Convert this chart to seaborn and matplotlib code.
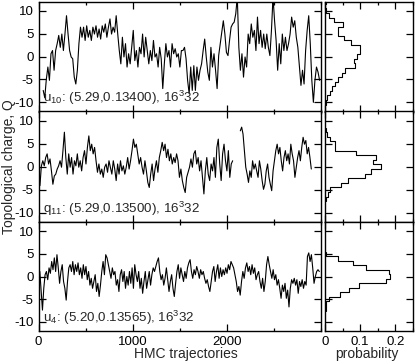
import numpy as np
import pandas as pd
import matplotlib
matplotlib.use('Agg')
import matplotlib.pyplot as plt
from matplotlib.ticker import MultipleLocator, NullFormatter
import seaborn as sns

sns.set_style('ticks')
plt.rcParams['font.family'] = ['Liberation Sans', 'DejaVu Sans']
plt.rcParams['axes.unicode_minus'] = False
plt.rcParams['mathtext.default'] = 'regular'

# %% data
# u10 run: topological charge vs HMC trajectory
u10_traj = (50, 2985)
u10_charge = [
    -7.4, -9.0, -5.0, -2.3, -5.2, 0.6, 1.3, -3.0, 1.3, 2.8, 4.6, 2.0, 4.9, 1.3, 4.9, 8.9, 4.9, 1.3, -0.1, -0.5,
    -4.5, -6.0, -3.0, 2.8, 6.4, 4.2, 6.4, 3.5, 6.7, 4.2, 5.7, 3.5, 6.4, 4.9, 6.7, 4.2, 6.0, 3.8, 6.7, 5.3,
    7.1, 4.2, 6.4, 8.2, 4.9, 6.4, 5.3, 8.9, 4.9, 1.3, -1.6, 4.2, -0.1, 2.8, -2.3, 0.6, -1.6, 2.0, 5.7, -0.9,
    1.3, -2.3, 2.0, 0.6, 4.9, -0.1, 4.2, 1.3, -1.6, 1.3, -0.9, 3.5, -0.1, 0.6, -2.3, 2.0, -0.5, -7.0, -1.6, 2.8,
    -0.1, 1.3, -2.3, 2.8, 0.6, 1.7, -0.1, 0.6, -2.3, 1.3,
    1.3, 2.0, -0.5, -5.2, -8.1, -2.3, -7.4, -2.0, -7.4, -2.3, -5.2, -3.0, -1.6, 1.3, 3.8, -0.1, -3.4, -5.2, 2.0, -2.3,
    0.6, -3.0, -7.0, 0.2, 2.8, 5.3, 7.8, 4.9, 0.9, 0.2, 3.5, 6.4, 7.1, 7.5, 9.3, 13.0, 2.0, -3.0, 0.6, -4.5,
    -0.1, -2.3, 4.9, 2.8, 7.1, 4.2, 5.7, 1.3, 8.6, 2.8, 5.7, 2.0, 4.9, 1.7, 4.9, 2.0, 0.2, 5.7, 13.0, 7.8,
    3.5, -3.0, 2.8, -1.6, 4.9, 1.3, 4.2, 1.3, 2.8, 4.9, 8.6, 6.4, 7.8, 4.2, 2.0, -2.3, -6.3, -3.0, -6.0, 1.3,
    5.7, 8.9, 2.8, -5.2, -10.0, -5.2, -2.3, -3.4, -5.2,
]

# q11 run, two stretches with a gap between them
q11_traj_a = (0, 2062)
q11_charge_a = [
    -2.3, -4.1, 0.2, 1.3, 0.2, 2.0, 2.8, 0.6, 1.7, -0.9, -3.8, -2.0, -1.6, -0.5, 0.2, 1.3, -0.1, 3.5, 7.5, 2.0,
    -1.6, 2.8, -0.1, 2.0, -1.6, 1.3, 0.2, 2.8, -0.1, 1.3, -0.9, 2.0, 3.5, 0.6, 4.2, 6.7, 3.5, 4.9, 2.8, 4.2,
    1.3, -1.2, 0.6, -1.6, -0.5, -2.3, -0.1, 0.6, -1.2, 1.3, -0.1, -1.6, 1.3, -0.5, -3.0, 0.6, -1.6, 1.3, -0.9, 0.2,
    -1.6, -0.1, 2.0, -0.5, 1.3, 3.5, 6.0, 4.2, 4.9, 2.8, 0.6, 2.0, -0.1, -1.6, 1.3, -0.9, -3.4, -4.5, -1.6, 0.6,
    -3.0, -0.5, 1.3, -1.2, 2.0, 3.5, 5.3, 3.5, 4.9, 2.0, 3.8, 1.3, 2.8, 0.6, 2.0, 0.9, 2.8, 1.3,
    -2.3, -0.5, -3.0, -4.5, -5.6, -2.3, -1.2, -0.1, 1.7, -0.1, 2.8, 3.5, 0.6, 2.0, -0.9, 1.3, -2.3, -5.9, -0.9, 2.0,
    -1.6, -3.0, 0.6, -0.9, 2.0, -2.3, 4.2, 6.0, 0.6, -3.0, 2.8, 4.9, 1.3, -0.9, 3.5, -2.3, 0.6, 1.3,
]
q11_traj_b = (2143, 2897)
q11_charge_b = [
    7.8, 8.6, 7.1, 3.5, -0.1, -1.6, -3.4, -0.9, -2.3, 1.3, -0.5, 0.6, -0.9, -2.3, 1.3, -0.5, -3.0, -4.9, -3.8, -0.9,
    0.6, -2.3, -3.8, -5.2, -0.9, 1.3, 3.5, 4.9, 2.8, 4.2, 1.3, -0.9, 2.0, 3.5, 1.3, 2.8, 0.6, 4.9, 2.8, 1.3,
    -2.3, -0.1, 2.0, 3.5, 1.3, 4.2, 6.4, 4.9, 5.7, 2.8, 4.2, 2.0, -0.5,
]

# u4 run
u4_traj = (0, 2982)
u4_charge = [
    -1.1, 1.1, -3.3, -7.4, -2.6, 0.4, 1.1, -0.7, 1.9, 0.7, 3.3, 1.5, 4.1, 1.1, 4.8, 1.9, -1.5, 1.1, 2.6, -1.1,
    -2.6, -5.2, -1.1, 1.9, 2.6, 1.1, 3.3, 0.4, 2.6, 1.1, 3.0, 0.4, 1.9, -0.4, 2.6, 0.4, 2.2, -0.7, 1.1, -1.9,
    -0.4, -2.6, -1.1, 0.4, -3.3, -1.5, -4.4, -1.9, 1.1, 3.3, 0.4, 4.8, 4.1, 2.6, 1.1, -0.4, 1.9, 0.4, 1.1, -1.9,
    -0.7, -3.3, 0.4, 1.5, -1.1, 1.1, -2.6, 0.0, -1.9, 1.1, -1.5, 1.9, -2.6, 2.6, 0.4, -1.1, 1.1, -2.6, -0.4, -3.7,
    -1.1, 1.1, -2.6, -0.7, 1.1, -1.9, 0.4, 1.9, 1.1, 2.2, 3.3, 4.1, 1.1, -0.7, 0.4, -1.9, -0.4, 1.9, -0.7, -3.3,
    -1.1, 0.4, -2.6, -4.4, -1.5, 1.1, 2.6, -0.4, 1.9, 0.4, -1.1,
    1.1, -0.4, 1.9, 3.0, 3.7, 1.1, -0.4, 1.5, 0.4, 2.2, 1.1, -0.4, 1.5, 0.4, 1.1, -0.4, -1.5, -0.7, -2.2, -3.3,
    -1.1, 1.1, 2.2, -1.1, 1.1, 2.6, -0.4, 1.9, 0.0, 1.5, 0.4, 1.9, 0.7, 2.6, 1.5, 3.3, 2.6, 1.9, 0.4, -1.1,
    -3.3, -2.2, -4.1, -1.1, 1.1, -0.4, 1.9, 3.0, 1.1, 2.2, 0.4, 2.6, 0.7, 1.9, -0.7, 0.4, 1.1, -1.1, -2.6, -0.4,
    -3.3, -1.1, 2.6, 4.4, 2.6, 1.1, -0.4, 1.5, -0.7, 0.4, -1.9, -0.7, -2.6, -4.8, -1.9, -3.3, -1.5, -4.8, -3.0, -6.7,
    -2.6, -0.7, -1.5, -0.4, -1.9, -0.7, -3.7, -1.1, -2.2, -0.7, -2.6, -1.1, -1.9, 4.4, 5.2, 3.3, 4.8, 1.9, -1.5, 0.0,
    1.1, 1.5, 1.1,
]

# probability histograms, one bin per integer charge
u10_q = list(range(-10, 13))
u10_prob = [0.002, 0.007, 0.013, 0.020, 0.027, 0.037, 0.049, 0.058, 0.085, 0.081, 0.091, 0.099,
            0.099, 0.075, 0.053, 0.036, 0.036, 0.051, 0.025, 0.010, 0.002, 0.0, 0.003]
q11_q = list(range(-7, 9))
q11_prob = [0.002, 0.008, 0.015, 0.046, 0.065, 0.115, 0.131, 0.159, 0.136, 0.145, 0.089, 0.029,
            0.029, 0.015, 0.007, 0.004]
u4_q = list(range(-7, 6))
u4_prob = [0.002, 0.004, 0.010, 0.043, 0.067, 0.098, 0.172, 0.185, 0.181, 0.117, 0.079, 0.037, 0.004]

labels = [r'u$_{10}$: (5.29,0.13400), 16$^3$32',
          r'q$_{11}$: (5.29,0.13500), 16$^3$32',
          r'u$_4$: (5.20,0.13565), 16$^3$32']

# %% figure
fig = plt.figure(figsize=(4.15, 3.63), dpi=100)
W, H = 415, 363
rows = [(1.5, 111.5), (111.5, 222), (222, 331)]
left = (38.5, 321)
right = (325, 413)

def frame(ax):
    for s in ax.spines.values():
        s.set_linewidth(1.0)
        s.set_color('black')
    ax.tick_params(which='both', direction='in', top=True, right=True,
                   labelsize=9.5, width=0.9, pad=3.5, colors='black')
    ax.tick_params(which='major', length=5)
    ax.tick_params(which='minor', length=2.5)
    ax.set_ylim(-12, 12)
    ax.yaxis.set_major_locator(MultipleLocator(5))

series = [
    [(u10_traj, u10_charge)],
    [(q11_traj_a, q11_charge_a), (q11_traj_b, q11_charge_b)],
    [(u4_traj, u4_charge)],
]
hists = [(u10_q, u10_prob), (q11_q, q11_prob), (u4_q, u4_prob)]

for i, (top, bot) in enumerate(rows):
    yb = 1 - bot / H
    h = (bot - top) / H
    ax = fig.add_axes([left[0] / W, yb, (left[1] - left[0]) / W, h])
    for (t0, t1), vals in series[i]:
        t = np.linspace(t0, t1, len(vals))
        sns.lineplot(x=t, y=vals, ax=ax, color='black', linewidth=0.8,
                     estimator=None, sort=False)
    frame(ax)
    ax.set_xlim(0, 3000)
    ax.set_xticks([0, 1000, 2000])
    ax.xaxis.set_minor_locator(MultipleLocator(500))
    ax.set_xlabel('')
    ax.set_ylabel('')
    if i < 2:
        ax.xaxis.set_major_formatter(NullFormatter())
    ax.text(0.016, 0.085, labels[i], transform=ax.transAxes, fontsize=9.6,
            ha='left', va='baseline')

    axh = fig.add_axes([right[0] / W, yb, (right[1] - right[0]) / W, h])
    q, p = hists[i]
    hist_df = pd.DataFrame({'q': q, 'p': p})
    sns.histplot(data=hist_df, y='q', weights='p', binwidth=1,
                 binrange=(min(q) - 0.5, max(q) + 0.5), element='step',
                 fill=False, color='black', linewidth=0.8, ax=axh)
    frame(axh)
    axh.set_xlim(0, 0.25)
    axh.set_xticks([0, 0.1, 0.2])
    axh.set_xticklabels(['0', '0.1', '0.2'])
    axh.xaxis.set_minor_locator(MultipleLocator(0.05))
    axh.yaxis.set_major_formatter(NullFormatter())
    axh.set_xlabel('')
    axh.set_ylabel('')
    if i < 2:
        axh.xaxis.set_major_formatter(NullFormatter())

fig.text(0.448, 0.025, 'HMC trajectories', ha='center', va='center', fontsize=10)
fig.text(0.885, 0.025, 'probability', ha='center', va='center', fontsize=10)
fig.text(0.022, 0.541, 'Topological charge, Q', rotation=90, ha='center',
         va='center', fontsize=10)

fig.savefig('out.png', dpi=100)
